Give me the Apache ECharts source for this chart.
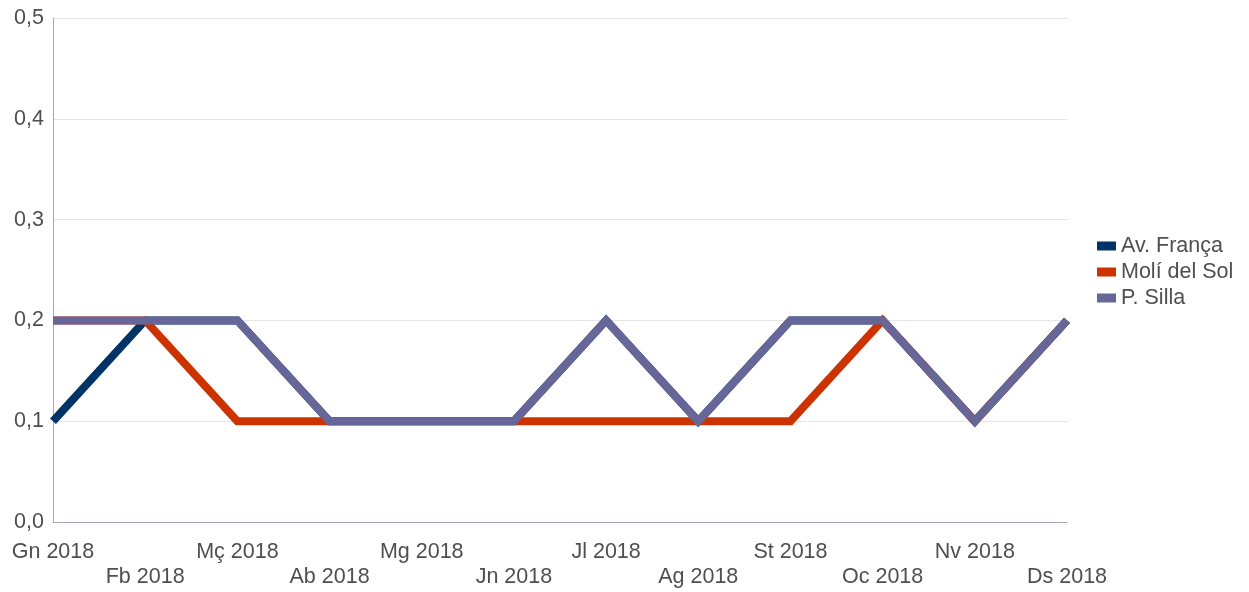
<!DOCTYPE html>
<html>
<head>
<meta charset="utf-8">
<script src="https://cdn.jsdelivr.net/npm/echarts@6/dist/echarts.min.js"></script>
<style>
  html, body { margin: 0; padding: 0; background: #ffffff; }
  #chart { width: 1249px; height: 592px; }
</style>
</head>
<body>
<div id="chart"></div>
<script>
// Monthly values per station
const months = ['Gn 2018', 'Fb 2018', 'Mç 2018', 'Ab 2018', 'Mg 2018', 'Jn 2018',
                'Jl 2018', 'Ag 2018', 'St 2018', 'Oc 2018', 'Nv 2018', 'Ds 2018'];
const avFranca = [0.1, 0.2, 0.2, 0.1, 0.1, 0.1, 0.2, 0.1, 0.2, 0.2, 0.1, 0.2];
const moliDelSol = [0.2, 0.2, 0.1, 0.1, 0.1, 0.1, 0.1, 0.1, 0.1, 0.2, 0.1, 0.2];
const pSilla = [0.2, 0.2, 0.2, 0.1, 0.1, 0.1, 0.2, 0.1, 0.2, 0.2, 0.1, 0.2];

const FONT = '"Liberation Sans", Arial, sans-serif';
const TEXT = '#4f4f4f';
const FS = 21.5;

function lineSeries(name, data, color) {
  return {
    name: name,
    type: 'line',
    data: data,
    symbol: 'none',
    lineStyle: { width: 8, color: color, cap: 'butt', join: 'miter' },
    itemStyle: { color: color },
    emphasis: { disabled: true }
  };
}

const chart = echarts.init(document.getElementById('chart'), null, { renderer: 'canvas' });
chart.setOption({
  animation: false,
  grid: { left: 53, right: 182, top: 18, bottom: 70, containLabel: false },
  legend: {
    orient: 'vertical',
    left: 1097,
    top: 235,
    padding: 0,
    itemWidth: 19,
    itemHeight: 9,
    itemGap: 4,
    itemTextGap: 10,
    icon: 'rect',
    textStyle: { color: TEXT, fontFamily: FONT, fontSize: FS },
    data: ['Av. França', 'Molí del Sol', 'P. Silla']
  },
  xAxis: {
    type: 'category',
    data: months,
    boundaryGap: false,
    axisLine: { lineStyle: { color: '#a3a3c2', width: 1 } },
    axisTick: { show: false },
    axisLabel: {
      interval: 0,
      color: TEXT,
      fontFamily: FONT,
      fontSize: FS,
      lineHeight: 25,
      margin: 18,
      formatter: function (value, index) {
        return index % 2 === 1 ? '\n' + value : value;
      }
    },
    splitLine: { show: false }
  },
  yAxis: {
    type: 'value',
    min: 0,
    max: 0.5,
    interval: 0.1,
    axisLine: { show: true, lineStyle: { color: '#a3a3c2', width: 1 } },
    axisTick: { show: false },
    axisLabel: {
      color: TEXT,
      fontFamily: FONT,
      fontSize: FS,
      margin: 9,
      formatter: function (v) { return v.toFixed(1).replace('.', ','); }
    },
    splitLine: { lineStyle: { color: '#e4e4ec', width: 1 } }
  },
  series: [
    lineSeries('Av. França', avFranca, '#003366'),
    lineSeries('Molí del Sol', moliDelSol, '#cc3300'),
    lineSeries('P. Silla', pSilla, '#666699')
  ]
});
</script>
</body>
</html>
